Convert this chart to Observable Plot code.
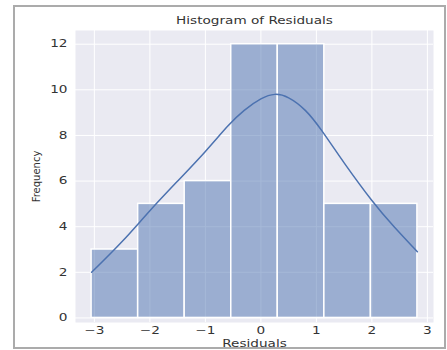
<!DOCTYPE html>
<html><head><meta charset="utf-8">
<script src="https://cdn.jsdelivr.net/npm/d3@7"></script>
<script src="https://cdn.jsdelivr.net/npm/@observablehq/plot@0.6"></script>
<style>
body{margin:0;background:#fff;}
#wrap{position:relative;width:447px;height:350px;}
#border{position:absolute;left:13px;top:5px;width:433px;height:344px;border:2px solid #ababab;box-sizing:border-box;pointer-events:none;}
</style></head><body>
<div id="wrap"><div id="chart"></div><div id="border"></div></div>
<script>
// Histogram bins (edges) and counts
const binEdges = [-3.05, -2.211, -1.373, -0.534, 0.304, 1.143, 1.982, 2.82];
const counts = [3, 5, 6, 12, 12, 5, 5];
// KDE curve (scaled to counts)
const kdeX = [-3.05, -2.5, -2.0, -1.5, -1.0, -0.6, -0.3, 0.0, 0.25, 0.5, 0.8, 1.1, 1.5, 2.0, 2.4, 2.82];
const kdeY = [2.0, 3.35, 4.7, 6.0, 7.3, 8.4, 9.1, 9.6, 9.8, 9.65, 9.1, 8.2, 6.8, 5.15, 4.0, 2.9];
const xTicks = [-3, -2, -1, 0, 1, 2, 3];
const yTicks = [0, 2, 4, 6, 8, 10, 12];
const titleText = "Histogram of Residuals";
const xLabel = "Residuals";
const yLabel = "Frequency";

const bins = counts.map((c, i) => ({x1: binEdges[i], x2: binEdges[i + 1], count: c}));
const kde = kdeX.map((x, i) => ({x, y: kdeY[i]}));
const blue = "#4C72B0";

const plot = Plot.plot({
  width: 447, height: 350,
  marginLeft: 75, marginRight: 14, marginTop: 30, marginBottom: 28,
  style: {fontFamily: "DejaVu Sans", fontSize: "10px", color: "#333", background: "transparent"},
  x: {domain: [-3.34, 3.11]},
  y: {domain: [-0.2, 12.6]},
  marks: [
    Plot.frame({fill: "#EAEAF2", stroke: "none"}),
    Plot.gridX(xTicks, {stroke: "white", strokeOpacity: 1, strokeWidth: 1}),
    Plot.gridY(yTicks, {stroke: "white", strokeOpacity: 1, strokeWidth: 1}),
    Plot.rectY(bins, {x1: "x1", x2: "x2", y: "count", fill: blue, fillOpacity: 0.5, stroke: "white", strokeWidth: 1.5}),
    Plot.line(kde, {x: "x", y: "y", stroke: blue, strokeWidth: 1.5, curve: "natural"}),
    Plot.axisX(xTicks, {tickSize: 0, tickPadding: 4, label: null}),
    Plot.axisY(yTicks, {tickSize: 0, tickPadding: 8, label: null}),
    Plot.text([titleText], {frameAnchor: "top", textAnchor: "middle", lineAnchor: "middle", dy: -9.5, fill: "#333"}),
    Plot.text([xLabel], {frameAnchor: "bottom", textAnchor: "middle", lineAnchor: "middle", dy: 21, fill: "#333"}),
    Plot.text([yLabel], {frameAnchor: "left", textAnchor: "middle", lineAnchor: "middle", dx: -39, rotate: -90, fill: "#333"})
  ]
});
document.getElementById("chart").appendChild(plot);
// widen horizontal text as in the reference
plot.querySelectorAll("text").forEach(t => {
  const tr = (t.getAttribute("transform") || "") + " " + ((t.parentNode && t.parentNode.getAttribute && t.parentNode.getAttribute("transform")) || "");
  if (tr.includes("rotate")) return;
  const len = t.getComputedTextLength();
  if (len > 0) {
    t.setAttribute("textLength", (len * 1.36).toFixed(1));
    t.setAttribute("lengthAdjust", "spacingAndGlyphs");
  }
});
</script>
</body></html>
